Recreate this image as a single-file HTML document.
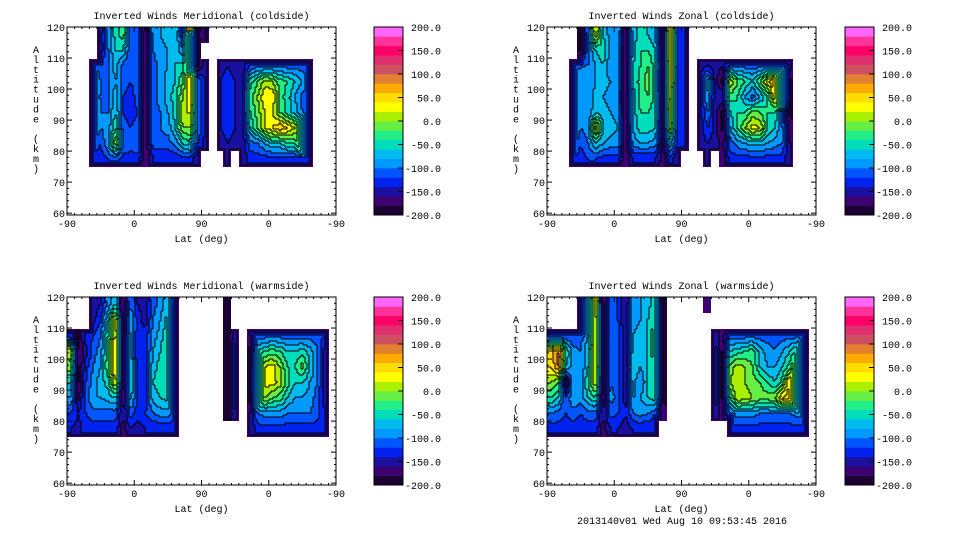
<!DOCTYPE html>
<html><head><meta charset="utf-8"><style>
html,body{margin:0;padding:0;background:#fff;}
svg text{font-family:"Liberation Mono",monospace;font-size:10px;fill:#000;}
</style></head><body>
<svg id="fig" width="960" height="540" viewBox="0 0 960 540" xmlns="http://www.w3.org/2000/svg"></svg>
<script>
// altitude bins (km, bottom edge of each 5 km row, top row first)
const altRows = [115,110,105,100,95,90,85,80,75];
// column width in pseudo-lat degrees (axis spans -90..90..-90 = 0..360)
const colWidth = 10;
const xTickLabels = ["-90","0","90","0","-90"];
const yTickLabels = [60,70,80,90,100,110,120];
const cbarTickLabels = ["200.0","150.0","100.0","50.0","0.0","-50.0","-100.0","-150.0","-200.0"];
const bandColors = ["#1a0033","#3c0070","#1a10a0","#0022ee","#0055ff","#0099ff","#00bbee","#00ddbb","#22ee88","#66ee44","#aaee00","#ffff00","#ffdd00","#ffaa00","#e08030","#cc5060","#e03070","#ff0066","#ff3399","#ff66ff"];
const N = null, E = [N,N,N,N,N,N,N,N,N];
const merCold = [E,E,E,
[N,N,-120,60,0,-40,-60,-100,-130],
[-150,-150,-120,-110,-110,-100,-100,-120,-130],
[-90,-100,-100,-100,-100,-100,-90,-80,-120],
[-50,-60,-70,-80,-70,-60,-40,0,-110],
[-30,-60,-110,-110,-120,-120,-110,-100,-130],
[-110,-120,-120,-120,-130,-130,-120,-110,-130],
[-110,-120,-110,-110,-110,-120,-110,-100,-130],
[-185,-185,-185,-185,-185,-185,-185,-180,-180],
[-90,-100,-110,-110,-110,-110,-100,-110,-140],
[-80,-90,-90,-90,-90,-100,-100,-110,-140],
[-70,-80,-80,-70,-70,-80,-90,-110,-140],
[-60,-60,-60,-60,-50,-50,-60,-90,-140],
[-130,-100,-50,-20,0,20,0,-60,-130],
[90,80,70,60,40,20,0,-40,-130],
[-185,-185,-185,-100,-100,-100,-100,-120,-160],
[-160,N,-150,-140,-140,-140,-140,-150,N],
E,
[N,N,-150,-140,-140,-140,-140,-150,N],
[N,N,-140,-130,-130,-130,-130,-140,-160],
[N,N,-150,-140,-140,-140,-140,-150,N],
[N,N,-150,-150,-150,-150,-150,-150,-160],
[N,N,-120,-50,-30,-40,-60,-110,-130],
[N,N,-110,-20,0,-10,-20,-100,-130],
[N,N,-110,10,40,20,20,-80,-130],
[N,N,-110,0,40,20,40,-60,-130],
[N,N,-110,-30,-30,-20,60,-60,-130],
[N,N,-110,-40,-50,-50,40,-40,-130],
[N,N,-110,-60,-80,-70,20,-40,-130],
[N,N,-110,-80,-110,-100,-20,40,-130],
[N,N,-120,-110,-110,-110,-60,20,-130],
E,E,E];
const zonCold = [E,E,E,
[N,N,-130,40,40,-40,-60,-80,-130],
[-185,-185,-100,-100,-100,-100,-100,-120,-130],
[-100,-100,-100,-100,-100,-100,-90,-100,-120],
[20,-60,-80,-80,-70,-60,30,-60,-120],
[-60,-40,-60,-70,-80,-70,-60,-80,-130],
[-90,-90,-100,-80,-90,-80,-70,-90,-130],
[-80,-90,-90,-90,-100,-90,-80,-90,-130],
[-185,-185,-185,-185,-185,-185,-185,-180,-180],
[-70,-70,-60,-60,-70,-70,-80,-90,-140],
[-50,-40,-40,-30,-30,-40,-50,-80,-140],
[-60,-40,-20,-10,-20,-40,-50,-80,-140],
[-80,-60,-50,-60,-50,-50,-60,-90,-140],
[-185,-185,-185,-185,-185,-180,-180,-170,-170],
[60,60,50,40,30,20,10,-60,-130],
[-120,-120,-120,-120,-130,-130,-130,-130,-160],
[-130,-130,-130,-130,-130,-130,-130,-140,N],
E,
[N,N,-150,-140,-140,-150,-150,-150,N],
[N,N,-140,-70,-80,-100,-120,-140,-160],
[N,N,-150,-150,-150,-150,-150,-150,N],
[N,N,-160,-185,-140,-185,-185,-170,-170],
[N,N,-110,20,-30,-60,-80,-110,-130],
[N,N,-110,-20,-40,-40,-40,-90,-130],
[N,N,-110,-40,-80,-40,0,-80,-130],
[N,N,-110,-60,-110,-10,30,-70,-130],
[N,N,-110,-20,-80,-20,20,-70,-130],
[N,N,-110,30,-40,-40,-40,-80,-130],
[N,N,-110,70,40,-40,-60,-90,-130],
[N,N,-110,80,60,-120,-100,-100,-130],
[N,N,-150,-185,-185,-185,-170,-160,-160],
E,E,E];
const merWarm = [
[N,N,-130,20,-10,-60,-80,-120,-140],
[N,N,-185,-185,-185,-185,-170,-140,-150],
[N,N,-130,-150,-130,-120,-110,-120,-130],
[-150,-150,-120,-110,-100,-90,-80,-110,-130],
[-140,-120,-100,-90,-80,-70,-80,-110,-130],
[-90,-60,-40,-30,-20,-50,-70,-110,-130],
[-60,40,30,50,40,30,-60,-110,-130],
[-185,-185,-185,-185,-185,-185,-185,-160,-170],
[-100,-80,-70,-70,-60,-60,-70,-110,-140],
[-140,-130,-140,-140,-140,-140,-130,-130,-150],
[-150,-150,-130,-130,-130,-130,-130,-120,-140],
[-110,-100,-90,-80,-70,-60,-70,-100,-140],
[-90,-80,-70,-60,-50,-50,-60,-90,-140],
[-60,-50,-40,-30,-40,-30,-50,-90,-140],
[0,-20,-40,30,40,40,0,-100,-140],
E,E,E,E,E,E,
[-190,-190,-190,-190,-190,-190,-190,-190,N],
[N,N,-150,-110,-110,-110,-110,-140,N],
E,
[N,N,-160,-185,-185,-185,-185,-160,-160],
[N,N,-110,-60,0,20,-20,-100,-130],
[N,N,-110,-40,20,30,0,-90,-130],
[N,N,-110,-30,30,30,-20,-90,-130],
[N,N,-110,-40,0,10,-30,-90,-130],
[N,N,-110,-60,-40,-30,-60,-100,-130],
[N,N,-110,-60,-40,-60,-80,-100,-130],
[N,N,-110,-50,-10,-60,-80,-100,-130],
[N,N,-110,-70,-60,-80,-90,-100,-130],
[N,N,-110,-100,-100,-100,-110,-110,-130],
[N,N,-120,-150,-150,-150,-150,-140,-140],
E];
const zonWarm = [
[N,N,-110,40,40,0,-40,-100,-130],
[N,N,-100,100,80,-20,-60,-110,-130],
[N,N,-120,-40,-60,-185,-120,-120,-130],
[N,N,-120,-90,-90,-80,-80,-110,-130],
[-150,-140,-110,-100,-100,-90,-90,-120,-130],
[-50,-60,-80,-60,-60,-40,-60,-110,-130],
[40,30,30,30,30,20,-40,-110,-130],
[-185,-185,-185,-185,-185,-185,-180,-160,-170],
[-110,-110,-110,-110,-100,-100,-90,-110,-140],
[-120,-120,-110,-110,-110,-110,-110,-120,-140],
[-160,-160,-160,-160,-160,-160,-150,-140,-150],
[-90,-90,-80,-70,-60,-70,-80,-100,-140],
[-80,-80,-70,-70,-80,-100,-80,-90,-140],
[-70,-60,-60,-60,-60,-60,-60,-100,-140],
[-40,-30,-20,-20,-30,-40,-50,-110,-140],
[-185,-185,-185,-185,-185,-185,-185,-170,N],
E,E,E,E,E,
[-170,N,N,N,N,N,N,N,N],
[N,N,-150,-130,-130,-130,-130,-140,N],
[N,N,-170,-185,-185,-185,-185,-170,N],
[N,N,-110,-60,-10,0,-40,-100,-130],
[N,N,-110,-50,10,20,20,-90,-130],
[N,N,-110,-40,0,0,10,-90,-130],
[N,N,-110,-30,-20,-10,0,-90,-130],
[N,N,-110,-70,-60,-20,-10,-100,-130],
[N,N,-110,-90,-80,-40,-10,-100,-130],
[N,N,-110,-100,-80,-60,0,-100,-130],
[N,N,-110,-80,-60,-30,40,-100,-130],
[N,N,-110,-60,-30,50,60,-100,-130],
[N,N,-110,-30,40,80,50,-90,-130],
[N,N,-110,-60,20,60,40,-100,-130],
E];

const NS = "http://www.w3.org/2000/svg";
const svg = document.getElementById("fig");
function mk(tag, attrs, parent){const e=document.createElementNS(NS,tag);for(const k in attrs)e.setAttribute(k,attrs[k]);(parent||svg).appendChild(e);return e;}
function bandOf(v){let i=Math.floor((v+200)/20);return Math.max(0,Math.min(19,i));}

function sample(data,u,a){
  const nc=data.length, nr=altRows.length;
  const ci=Math.floor(u/colWidth); if(ci<0||ci>=nc) return null;
  const ri=altRows.findIndex(r=>a>=r && a<r+5); if(ri<0) return null;
  const own=data[ci][ri]; if(own===null) return null;
  const fu=u/colWidth-0.5, c0=Math.floor(fu), tu=fu-c0;
  const fa=(120-a)/5-0.5, r0=Math.floor(fa), ta=fa-r0;
  const get=(c,r)=>{const v=(c<0||c>=nc||r<0||r>=nr)?null:data[c][r];return v===null?own:v;};
  const v00=get(c0,r0),v10=get(c0+1,r0),v01=get(c0,r0+1),v11=get(c0+1,r0+1);
  return (v00*(1-tu)+v10*tu)*(1-ta)+(v01*(1-tu)+v11*tu)*ta;
}

const panels = [
 {ox:0, oy:0, title:"Inverted Winds Meridional (coldside)", data:merCold, name:"meridional-coldside"},
 {ox:480, oy:0, title:"Inverted Winds Zonal (coldside)", data:zonCold, name:"zonal-coldside"},
 {ox:0, oy:270, title:"Inverted Winds Meridional (warmside)", data:merWarm, name:"meridional-warmside"},
 {ox:480, oy:270, title:"Inverted Winds Zonal (warmside)", data:zonWarm, name:"zonal-warmside"}
];

panels.forEach((p)=>{
  const L=p.ox+67, R=p.ox+336, T=p.oy+27, B=p.oy+215;
  const xS = u => L + u*(R-L)/360;
  const yS = a => T + (120-a)*(B-T)/60.6;
  const uOf = x => (x-L)*360/(R-L);
  const aOf = y => 120-(y-T)*60.6/(B-T);
  const g = mk("g",{});
  
  
  const t = mk("text",{x:(L+R)/2, y:p.oy+19, "text-anchor":"middle"}, g);
  t.textContent = p.title;
  
  
  const cg = mk("g",{"shape-rendering":"crispEdges"}, g);
  
  
  const S=2, W=R-L, H=B-T;
  const nx=Math.ceil(W/S), ny=Math.ceil(H/S);
  const vals=[];
  for(let j=0;j<ny;j++){const row=[];for(let i=0;i<nx;i++){
    row.push(sample(p.data,uOf(L+i*S+S/2),aOf(T+j*S+S/2)));}vals.push(row);}
  // distance (in sub-cells) to the empty region, for edge falloff
  const dist=vals.map(r=>r.map(v=>v===null?0:99));
  for(let pass=0;pass<6;pass++){
    for(let j=0;j<ny;j++)for(let i=0;i<nx;i++){ if(dist[j][i]===0) continue;
      let m=dist[j][i];
      for(let dj=-1;dj<=1;dj++)for(let di=-1;di<=1;di++){
        const jj=j+dj, ii=i+di;
        const d=(jj<0||jj>=ny||ii<0||ii>=nx)?99:dist[jj][ii];
        if(d+1<m) m=d+1; }
      dist[j][i]=m; }
  }
  const grid=vals.map((r,j)=>r.map((v,i)=>{
    if(v===null) return -1;
    const cap=-197+dist[j][i]*22;
    return bandOf(Math.min(v,cap));
  }));
  let lines="";
  for(let j=0;j<ny;j++){
    let i=0;
    while(i<nx){
      const b=grid[j][i]; let k=i; while(k<nx&&grid[j][k]===b) k++;
      if(b>=0){ mk("rect",{x:L+i*S,y:T+j*S,width:(k-i)*S,height:S,fill:bandColors[b]},cg); }
      if(k<nx && b>=0 && grid[j][k]>=0) lines+=`M${L+k*S},${T+j*S}v${S}`;
      i=k;
    }
    if(j+1<ny) for(let i2=0;i2<nx;i2++){ const a=grid[j][i2], c=grid[j+1][i2];
      if(a>=0&&c>=0&&a!==c) lines+=`M${L+i2*S},${T+(j+1)*S}h${S}`; }
  }
  const cl=mk("path",{d:lines,stroke:"#000","stroke-width":0.8,fill:"none"},cg);
  
  
  const f = mk("rect",{x:L, y:T, width:R-L, height:B-T, fill:"none", stroke:"#000", "stroke-width":1}, g);
  
  
  xTickLabels.forEach((lab,i)=>{
    const x = xS(i*90);
    mk("line",{x1:x,y1:B,x2:x,y2:B-5,stroke:"#000"},g);
    mk("line",{x1:x,y1:T,x2:x,y2:T+5,stroke:"#000"},g);
    const tx = mk("text",{x:x, y:B+12, "text-anchor":"middle"}, g);
    tx.textContent = lab;
    
    
  });
  for(let u=10;u<360;u+=10){ if(u%90===0) continue; const x=xS(u);
    mk("line",{x1:x,y1:B,x2:x,y2:B-2,stroke:"#000"},g); mk("line",{x1:x,y1:T,x2:x,y2:T+2,stroke:"#000"},g); }
  yTickLabels.forEach(a=>{
    const y=yS(a);
    mk("line",{x1:L,y1:y,x2:L+5,y2:y,stroke:"#000"},g);
    mk("line",{x1:R,y1:y,x2:R-5,y2:y,stroke:"#000"},g);
    const ty = mk("text",{x:L-2, y:y+4, "text-anchor":"end"}, g);
    ty.textContent = a;
    
    
  });
  for(let a=62;a<120;a+=2){ if(a%10===0) continue; const y=yS(a);
    mk("line",{x1:L,y1:y,x2:L+2,y2:y,stroke:"#000"},g); mk("line",{x1:R,y1:y,x2:R-2,y2:y,stroke:"#000"},g); }
  const xt = mk("text",{x:(L+R)/2, y:B+27, "text-anchor":"middle"}, g);
  xt.textContent = "Lat (deg)";
  
  
  const yt = mk("g",{}, g);
  
  
  "Altitude (km)".split("").forEach((ch,i)=>{
    const c = mk("text",{x:p.ox+36, y:p.oy+53+i*9.9, "text-anchor":"middle"}, yt);
    c.textContent = ch;
  });
  const cL = p.ox + (p.ox? 365:374), cW = 29;
  const cb = mk("g",{}, g);
  
  
  const bh = (B-T)/20;
  bandColors.forEach((c,i)=>{
    mk("rect",{x:cL, y:(B-(i+1)*bh).toFixed(2), width:cW, height:(bh+0.3).toFixed(2), fill:c}, cb);
  });
  mk("rect",{x:cL,y:T,width:cW,height:B-T,fill:"none",stroke:"#000"},cb);
  cbarTickLabels.forEach((lab,i)=>{
    const y = T + i*(B-T)/8;
    mk("line",{x1:cL+cW,y1:y,x2:cL+cW-5,y2:y,stroke:"#000"},cb);
    const tl = mk("text",{x:cL+cW+38, y:y+4, "text-anchor":"end"}, cb);
    tl.textContent = lab;
    
    
  });
});
const ft = mk("text",{x:682, y:524, "text-anchor":"middle"});
ft.textContent = "2013140v01 Wed Aug 10 09:53:45 2016";


</script>
</body></html>
